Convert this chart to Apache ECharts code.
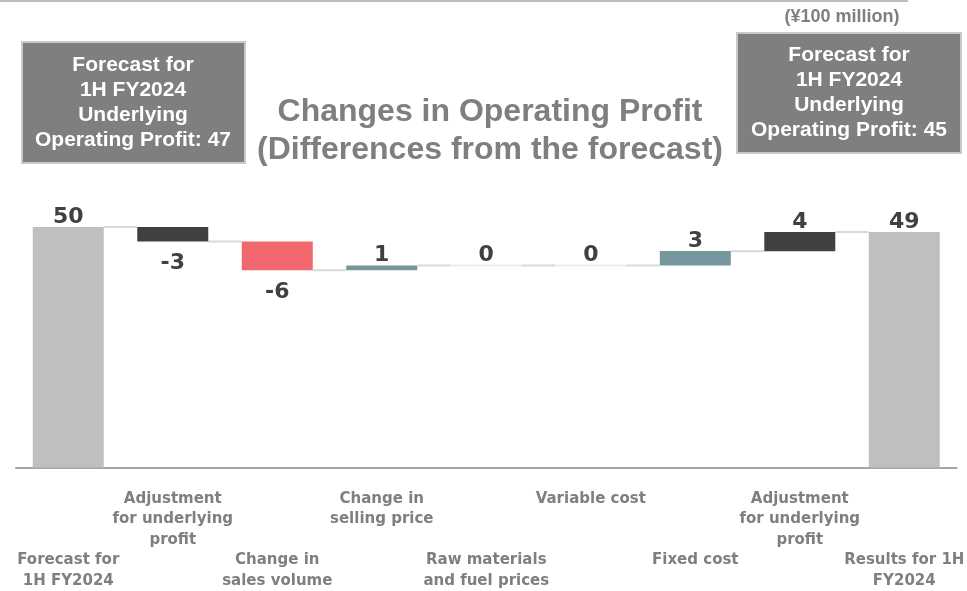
<!DOCTYPE html>
<html>
<head>
<meta charset="utf-8">
<script src="https://cdn.jsdelivr.net/npm/echarts@6/dist/echarts.min.js"></script>
<style>
  html, body { margin: 0; padding: 0; background: #fff; }
  #chart { width: 967px; height: 591px; }
</style>
</head>
<body>
<div id="chart"></div>
<script>
// categories on the x axis
var categories = [
  'Forecast for\n1H FY2024',
  'Adjustment\nfor underlying\nprofit',
  'Change in\nsales volume',
  'Change in\nselling price',
  'Raw materials\nand fuel prices',
  'Variable cost',
  'Fixed cost',
  'Adjustment\nfor underlying\nprofit',
  'Results for 1H\nFY2024'
];
// first and last are totals, the rest are changes
var values = [50, -3, -6, 1, 0, 0, 3, 4, 49];
var isTotal = [true, false, false, false, false, false, false, false, true];
var barColors = ['#bfbfbf', '#404040', '#f0676e', '#77979f', '#77979f', '#77979f', '#77979f', '#404040', '#bfbfbf'];

// running totals -> invisible base + visible height
var base = [], height = [], level = [];
var run = 0;
values.forEach(function (v, i) {
  if (isTotal[i]) {
    base.push(0); height.push(v); run = v;
  } else {
    base.push(Math.min(run, run + v)); height.push(Math.abs(v)); run = run + v;
  }
  level.push(run);
});

var chart = echarts.init(document.getElementById('chart'));

var option = {
  animation: false,
  grid: { left: 16, right: 3, top: 179, bottom: 123 },
  xAxis: {
    type: 'category',
    data: categories,
    axisLine: { lineStyle: { color: '#a6a6a6', width: 2 } },
    axisTick: { show: false },
    axisLabel: {
      interval: 0,
      margin: 21,
      color: '#7f7f7f',
      fontFamily: 'DejaVu Sans',
      fontWeight: 'bold',
      fontSize: 15,
      lineHeight: 20.5,
      formatter: function (val, idx) {
        return idx % 2 === 0 ? '\n\n\n' + val : val;
      }
    }
  },
  yAxis: { type: 'value', min: 0, max: 60, show: false, splitLine: { show: false } },
  series: [
    {
      // connectors between bars
      type: 'custom',
      z: 1,
      data: level.map(function (l, i) { return [i, l]; }),
      renderItem: function (params, api) {
        var i = api.value(0);
        var band = api.size([1, 0])[0];
        var half = 71 / 2;
        var p = api.coord([i, api.value(1)]);
        var children = [];
        if (i < categories.length - 1) {
          children.push({
            type: 'line',
            shape: { x1: p[0] + half, y1: p[1], x2: p[0] + band - half, y2: p[1] },
            style: { stroke: '#d9d9d9', lineWidth: 2 }
          });
        }
        if (!isTotal[i] && values[i] === 0) {
          children.push({
            type: 'line',
            shape: { x1: p[0] - half, y1: p[1], x2: p[0] + half, y2: p[1] },
            style: { stroke: '#eeeeee', lineWidth: 2 }
          });
        }
        return { type: 'group', children: children };
      }
    },
    {
      type: 'bar',
      stack: 'w',
      barWidth: 71,
      itemStyle: { color: 'transparent' },
      data: base,
      silent: true
    },
    {
      type: 'bar',
      stack: 'w',
      barWidth: 71,
      z: 3,
      data: height.map(function (h, i) {
        var neg = values[i] < 0;
        return {
          value: h,
          itemStyle: { color: barColors[i] },
          label: { position: neg ? 'bottom' : 'top', distance: neg ? 11 : -1 }
        };
      }),
      label: {
        show: true,
        color: '#404040',
        fontFamily: 'DejaVu Sans',
        fontWeight: 'bold',
        fontSize: 22,
        formatter: function (p) { return String(values[p.dataIndex]); }
      }
    }
  ],
  graphic: [
    {
      type: 'line',
      shape: { x1: 0, y1: 1, x2: 908, y2: 1 },
      style: { stroke: '#a6a6a6', lineWidth: 1.5 }
    },
    {
      type: 'text',
      x: 490, y: 131,
      style: {
        text: 'Changes in Operating Profit\n(Differences from the forecast)',
        fill: '#7f7f7f',
        font: 'bold 32px "Liberation Sans", Arial, sans-serif',
        lineHeight: 38,
        align: 'center',
        verticalAlign: 'middle'
      }
    },
    {
      type: 'text',
      x: 842, y: 17,
      style: {
        text: '(¥100 million)',
        fill: '#7f7f7f',
        font: 'bold 18px "Liberation Sans", Arial, sans-serif',
        align: 'center',
        verticalAlign: 'middle'
      }
    },
    {
      type: 'rect',
      shape: { x: 22, y: 42, width: 223, height: 121 },
      style: { fill: '#7f7f7f', stroke: '#c8c8c8', lineWidth: 2 }
    },
    {
      type: 'text',
      x: 133, y: 103,
      style: {
        text: 'Forecast for\n1H FY2024\nUnderlying\nOperating Profit: 47',
        fill: '#ffffff',
        font: 'bold 21px "Liberation Sans", Arial, sans-serif',
        lineHeight: 25,
        align: 'center',
        verticalAlign: 'middle'
      }
    },
    {
      type: 'rect',
      shape: { x: 737, y: 33, width: 224, height: 120 },
      style: { fill: '#7f7f7f', stroke: '#c8c8c8', lineWidth: 2 }
    },
    {
      type: 'text',
      x: 849, y: 93,
      style: {
        text: 'Forecast for\n1H FY2024\nUnderlying\nOperating Profit: 45',
        fill: '#ffffff',
        font: 'bold 21px "Liberation Sans", Arial, sans-serif',
        lineHeight: 25,
        align: 'center',
        verticalAlign: 'middle'
      }
    }
  ]
};

chart.setOption(option);
</script>
</body>
</html>
